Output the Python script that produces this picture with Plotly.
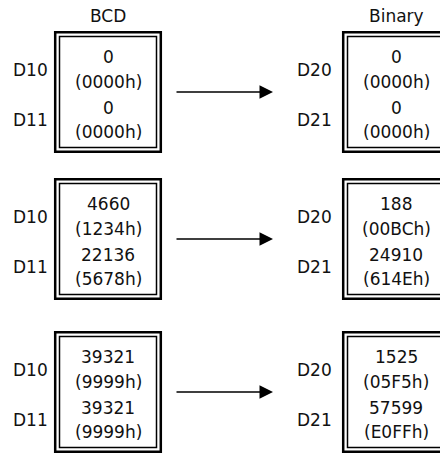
import plotly.graph_objects as go

# ---- data ----
headers = ["BCD", "Binary"]
registers_bcd = ["D10", "D11"]
registers_bin = ["D20", "D21"]
bcd_values = [[0, 0], [4660, 22136], [39321, 39321]]
bcd_hex = [["0000h", "0000h"], ["1234h", "5678h"], ["9999h", "9999h"]]
bin_values = [[0, 0], [188, 24910], [1525, 57599]]
bin_hex = [["0000h", "0000h"], ["00BCh", "614Eh"], ["05F5h", "E0FFh"]]

# ---- layout geometry ----
W, H = 440, 453
FONT = dict(family="DejaVu Sans, Verdana, sans-serif", size=17, color="#111111")
box_tops = [31, 178, 331]
box_h = 122
left_box = (54, 162)
right_box = (342, 450)
label_x = {"left": 30, "right": 314}
line_offsets = [26, 51, 77, 101]
label_offsets = [38.5, 89]

fig = go.Figure()
fig.add_trace(go.Scatter(x=[0, W], y=[0, H], mode="markers",
                         marker=dict(opacity=0), hoverinfo="skip", showlegend=False))

shapes = []
annotations = []


def add_box(x0, x1, top):
    bottom = top + box_h
    shapes.append(dict(type="rect", xref="x", yref="y", x0=x0 + 1.2, x1=x1 - 1.2,
                       y0=top + 1.2, y1=bottom - 1.2,
                       line=dict(color="black", width=2.5)))
    shapes.append(dict(type="rect", xref="x", yref="y", x0=x0 + 5.5, x1=x1 - 5.5,
                       y0=top + 5.5, y1=bottom - 5.5,
                       line=dict(color="black", width=1.5)))


def add_text(x, y, text):
    annotations.append(dict(x=x, y=y, xref="x", yref="y", text=text, showarrow=False,
                            xanchor="center", yanchor="middle", font=FONT))


# headers
add_text((left_box[0] + left_box[1]) / 2, 16, headers[0])
add_text((right_box[0] + right_box[1]) / 2, 16, headers[1])

for i, top in enumerate(box_tops):
    add_box(left_box[0], left_box[1], top)
    add_box(right_box[0], right_box[1], top)
    cxl = (left_box[0] + left_box[1]) / 2
    cxr = (right_box[0] + right_box[1]) / 2
    for j in range(2):
        add_text(cxl, top + line_offsets[2 * j], str(bcd_values[i][j]))
        add_text(cxl, top + line_offsets[2 * j + 1], "(" + bcd_hex[i][j] + ")")
        add_text(cxr, top + line_offsets[2 * j], str(bin_values[i][j]))
        add_text(cxr, top + line_offsets[2 * j + 1], "(" + bin_hex[i][j] + ")")
        add_text(label_x["left"], top + label_offsets[j], registers_bcd[j])
        add_text(label_x["right"], top + label_offsets[j], registers_bin[j])
    cy = top + box_h / 2
    annotations.append(dict(x=273, y=cy, ax=175, ay=cy, xref="x", yref="y",
                            axref="x", ayref="y", text="", showarrow=True,
                            arrowhead=2, arrowsize=1.8, arrowwidth=1.5,
                            arrowcolor="black", standoff=0, startstandoff=0))

fig.update_layout(
    width=W, height=H,
    margin=dict(l=0, r=0, t=0, b=0),
    paper_bgcolor="white", plot_bgcolor="white",
    xaxis=dict(range=[0, W], visible=False, fixedrange=True),
    yaxis=dict(range=[H, 0], visible=False, fixedrange=True),
    shapes=shapes, annotations=annotations,
    showlegend=False,
)
fig.write_html("out.html", config={"displayModeBar": False},
               post_script="document.body.style.margin='0';")
